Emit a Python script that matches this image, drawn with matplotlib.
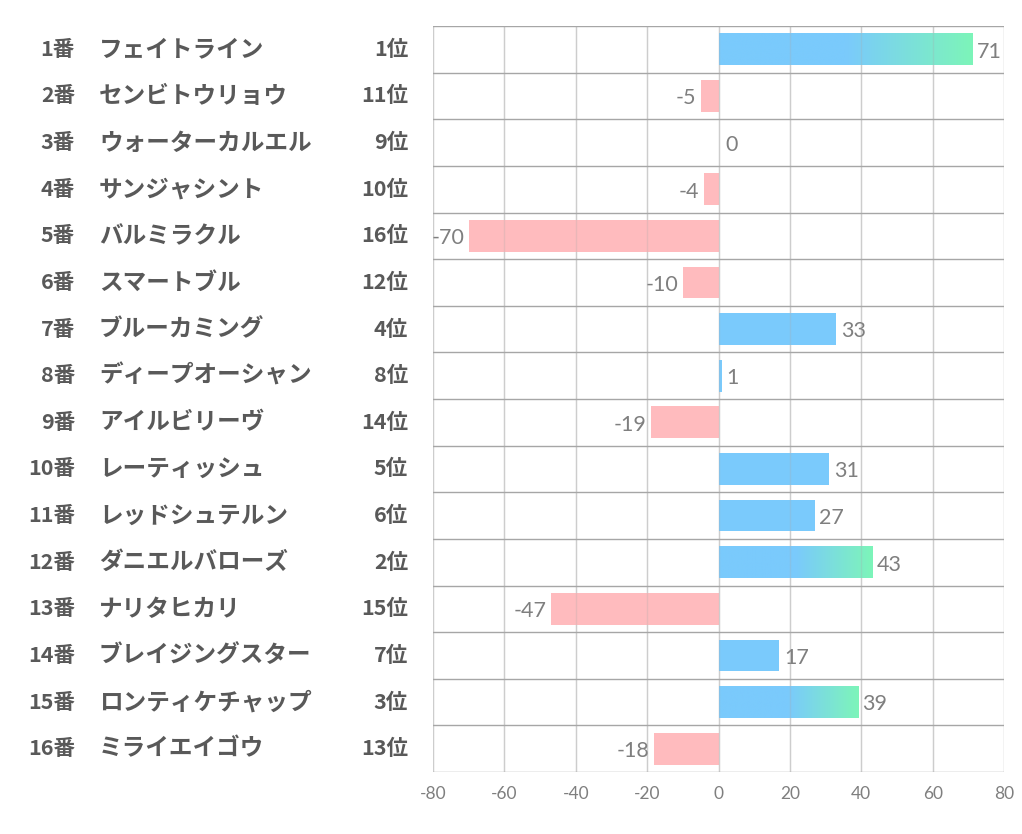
import numpy as np
import matplotlib
matplotlib.use("Agg")
import matplotlib.pyplot as plt
from matplotlib.colors import LinearSegmentedColormap
from matplotlib.transforms import blended_transform_factory

plt.rcParams['font.family'] = ['Noto Sans CJK JP', 'DejaVu Sans']
plt.rcParams['axes.unicode_minus'] = False

numbers = ["1番", "2番", "3番", "4番", "5番", "6番", "7番", "8番",
           "9番", "10番", "11番", "12番", "13番", "14番", "15番", "16番"]
names = ["フェイトライン", "センビトウリョウ", "ウォーターカルエル", "サンジャシント",
         "バルミラクル", "スマートブル", "ブルーカミング", "ディープオーシャン",
         "アイルビリーヴ", "レーティッシュ", "レッドシュテルン", "ダニエルバローズ",
         "ナリタヒカリ", "ブレイジングスター", "ロンティケチャップ", "ミライエイゴウ"]
ranks = [1, 11, 9, 10, 16, 12, 4, 8, 14, 5, 6, 2, 15, 7, 3, 13]
values = [71, -5, 0, -4, -70, -10, 33, 1, -19, 31, 27, 43, -47, 17, 39, -18]

blue = "#7ACAFC"
green = "#7DF5B9"
pink = "#FFBBBE"
text_col = "#595959"
val_col = "#7F7F7F"

fig = plt.figure(figsize=(10.22, 8.34), dpi=100)
ax = fig.add_axes([433 / 1022, 1 - 772 / 834, 571 / 1022, 746 / 834])

y = np.arange(len(values))
h = 0.68
cols = [blue if v >= 0 else pink for v in values]
ax.barh(y, values, height=h, color=cols, zorder=2)

# gradient for the top three
cmap = LinearSegmentedColormap.from_list(
    "bg", [(0, blue), (0.5, blue), (1, green)], N=256)
grad = np.linspace(0, 1, 256).reshape(1, -1)
for i, v in enumerate(values):
    if ranks[i] <= 3:
        ax.imshow(grad, cmap=cmap, aspect="auto", zorder=3,
                  extent=[0, v, i + h / 2, i - h / 2], interpolation="bilinear")

for i, v in enumerate(values):
    if v > 0:
        ax.text(v + 1.3, i + 0.05, str(v), ha="left", va="center",
                fontsize=15.5, color=val_col, family="Lato")
    elif v < 0:
        ax.text(v - 1.3, i + 0.05, str(v), ha="right", va="center",
                fontsize=15.5, color=val_col, family="Lato")
    else:
        ax.text(2.0, i + 0.05, "0", ha="left", va="center",
                fontsize=15.5, color=val_col, family="Lato")

ax.set_xlim(-80, 80)
ax.set_ylim(len(values) - 0.5, -0.5)
ax.set_xticks(np.arange(-80, 81, 20))
ax.set_yticks([])
ax.tick_params(axis="x", length=0, labelsize=12.5, labelcolor=val_col, pad=10)
for lab in ax.get_xticklabels():
    lab.set_family("Lato")
for x in np.arange(-80, 81, 20):
    ax.axvline(x, color="#D9D9D9", lw=1, zorder=1)
    ax.axvline(x, color="#AAAAAA", lw=1, alpha=0.25, zorder=4)
for k in range(len(values) + 1):
    ax.axhline(k - 0.5, color="#A6A6A6", lw=1, zorder=1)
for s in ax.spines.values():
    s.set_visible(False)

tr = blended_transform_factory(fig.transFigure, ax.transData)
for i in range(len(values)):
    ax.text(75 / 1022, i, numbers[i], transform=tr, ha="right", va="center",
            fontsize=15.5, fontweight="bold", color=text_col)
    ax.text(99 / 1022, i, names[i], transform=tr, ha="left", va="center",
            fontsize=17, fontweight="bold", color=text_col)
    ax.text(408 / 1022, i, f"{ranks[i]}位", transform=tr, ha="right", va="center",
            fontsize=15.5, fontweight="bold", color=text_col)

fig.savefig("out.png", dpi=100)
